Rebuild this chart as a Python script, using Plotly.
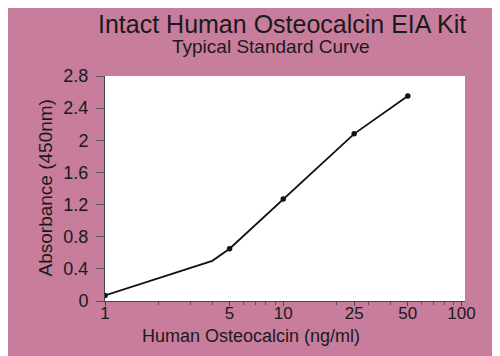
import plotly.graph_objects as go

# Standards (with markers)
conc = [1, 5, 10, 25, 50]
absorb = [0.07, 0.65, 1.27, 2.08, 2.55]
# Curve path (includes the unmarked bend near 4 ng/ml)
curve_conc = [1, 4, 5, 10, 25, 50]
curve_abs = [0.07, 0.5, 0.65, 1.27, 2.08, 2.55]

x_ticks = [1, 5, 10, 25, 50, 100]
x_minor = [2, 3, 4, 6, 7, 8, 9, 20, 30, 40, 60, 70, 80, 90]
y_ticks = [0, 0.4, 0.8, 1.2, 1.6, 2, 2.4, 2.8]
y_labels = ["0", "0.4", "0.8", "1.2", "1.6", "2", "2.4", "2.8"]

bg = "#c97d9c"
font = "Liberation Sans, Arial, sans-serif"

L, R, T, B = 97, 43, 68, 63
W, H = 500, 356
pw, ph = W - L - R, H - T - B

def px_ann(text, x, y, size):
    return dict(text=text, showarrow=False, xref="paper", yref="paper",
                x=(x - L) / pw, y=(H - B - y) / ph,
                xanchor="center", yanchor="middle", font=dict(size=size))

fig = go.Figure()
fig.add_trace(go.Scatter(x=curve_conc, y=curve_abs, mode="lines",
                         line=dict(color="#111111", width=1.8), hoverinfo="skip"))
fig.add_trace(go.Scatter(x=conc, y=absorb, mode="markers",
                         marker=dict(color="#111111", size=5.5)))

fig.update_layout(
    width=W, height=H,
    paper_bgcolor=bg, plot_bgcolor="white",
    margin=dict(l=L, r=R, t=T, b=B),
    showlegend=False,
    font=dict(family=font, color="#1a1a1a"),
    annotations=[
        px_ann("Intact Human Osteocalcin EIA Kit", 274, 16, 25),
        px_ann("Typical Standard Curve", 263, 38, 19),
        px_ann("Human Osteocalcin (ng/ml)", 243, 328, 18),
        dict(text="Absorbance (450nm)", showarrow=False, xref="paper", yref="paper",
             x=(37 - L) / pw, y=0.5, xanchor="center", yanchor="middle",
             textangle=-90, font=dict(size=19)),
    ],
)

fig.update_xaxes(type="log", range=[0, 2.02], tickvals=x_ticks,
                 ticktext=[str(v) for v in x_ticks],
                 ticks="outside", ticklen=4, tickcolor="#444", showgrid=False,
                 showline=True, linecolor="#444", linewidth=1, zeroline=False,
                 tickfont=dict(size=17), ticklabelstandoff=-7,
                 minor=dict(tickvals=x_minor, ticks="outside", ticklen=3, tickcolor="#555"))
fig.update_yaxes(range=[0, 2.8], tickvals=y_ticks, ticktext=y_labels,
                 ticks="outside", ticklen=8, tickcolor="#555", showgrid=False,
                 showline=True, linecolor="#444", linewidth=1, zeroline=False,
                 tickfont=dict(size=18), ticklabelstandoff=4)

fig.write_html("out.html")
